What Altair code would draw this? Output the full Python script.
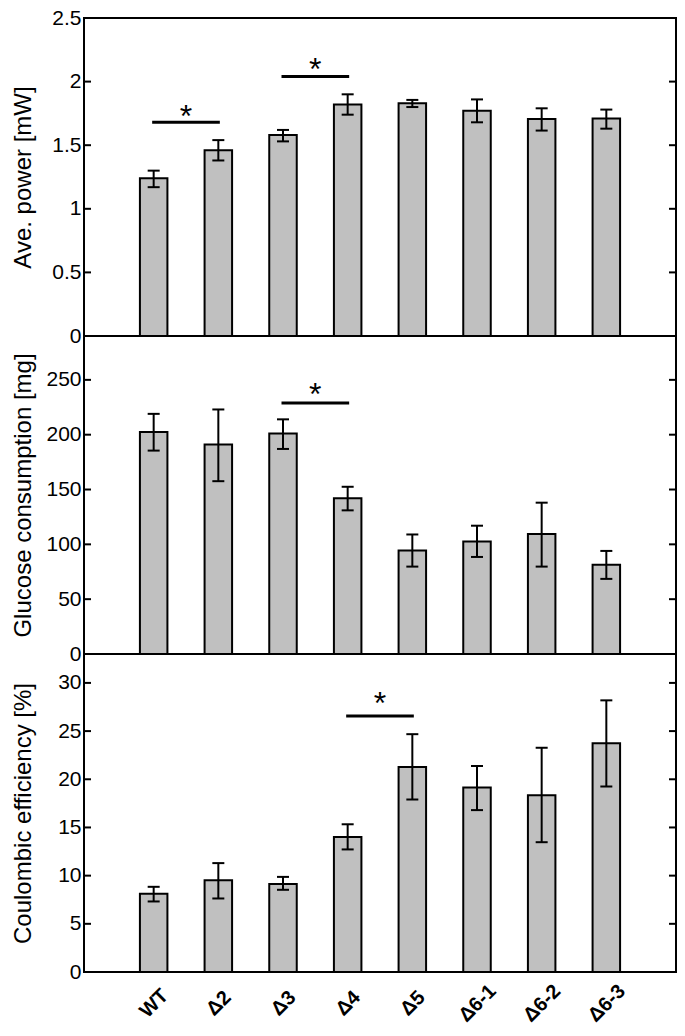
import altair as alt
import pandas as pd

categories = ["WT", "Δ2", "Δ3", "Δ4", "Δ5", "Δ6-1", "Δ6-2", "Δ6-3"]

power_mean = [1.24, 1.46, 1.58, 1.82, 1.83, 1.77, 1.705, 1.71]
power_lo = [1.17, 1.38, 1.53, 1.74, 1.80, 1.68, 1.615, 1.63]
power_hi = [1.30, 1.54, 1.62, 1.90, 1.856, 1.86, 1.79, 1.78]

glucose_mean = [202.5, 191, 201, 142, 94.5, 102.7, 109.5, 81.5]
glucose_lo = [185.5, 157.6, 187, 131, 79.7, 88.5, 79.7, 68.5]
glucose_hi = [219, 223, 214, 152.5, 109, 117, 138, 94]

ce_mean = [8.11, 9.52, 9.14, 14.02, 21.28, 19.14, 18.35, 23.75]
ce_lo = [7.32, 7.63, 8.53, 12.72, 17.9, 16.8, 13.47, 19.25]
ce_hi = [8.84, 11.3, 9.87, 15.33, 24.68, 21.38, 23.27, 28.19]

# significance brackets: (left category index, right category index)
power_sig_a = [0, 2]
power_sig_b = [1, 3]
power_sig_line = [1.68, 2.04]
power_sig_star = [1.79, 2.16]

glucose_sig_a = [2]
glucose_sig_b = [3]
glucose_sig_line = [228.8]
glucose_sig_star = [244.5]

ce_sig_a = [3]
ce_sig_b = [4]
ce_sig_line = [26.57]
ce_sig_star = [28.7]

power_ticks = [0, 0.5, 1, 1.5, 2, 2.5]
glucose_ticks = [0, 50, 100, 150, 200, 250]
ce_ticks = [0, 5, 10, 15, 20, 25, 30]

W = 592
H = 318
FONT = "Liberation Sans"

label_expr = "[" + ",".join("'" + c + "'" for c in categories) + "][datum.value - 1]"


def panel(mean, lo, hi, sa, sb, sline, sstar, ymax, ticks, title, show_x):
    df = pd.DataFrame({
        "pos": list(range(1, len(categories) + 1)),
        "cat": categories,
        "mean": mean,
        "lo": lo,
        "hi": hi,
    })
    sig = pd.DataFrame({
        "a": [i + 1 for i in sa],
        "b": [i + 1 for i in sb],
        "line": sline,
        "star": sstar,
    })
    tk = pd.DataFrame({"t": ticks})

    xscale = alt.Scale(domain=[0, len(categories) + 1], nice=False, zero=False)
    yscale = alt.Scale(domain=[0, ymax], nice=False)

    if show_x:
        xaxis = alt.Axis(
            values=list(range(1, len(categories) + 1)),
            labelExpr=label_expr,
            labelAngle=315,
            labelAlign="center",
            labelBaseline="middle",
            labelPadding=31,
            labelFont=FONT,
            labelFontSize=20,
            labelFontWeight="bold",
            labelColor="black",
            domain=False,
            ticks=False,
            grid=False,
            title=None,
        )
    else:
        xaxis = None

    yaxis = alt.Axis(
        values=ticks,
        format="~r",
        title=title,
        titleFont=FONT,
        titleFontSize=24,
        titleFontWeight="normal",
        titleColor="black",
        titlePadding=1,
        labelFont=FONT,
        labelFontSize=21,
        labelColor="black",
        labelPadding=3,
        minExtent=48,
        domain=False,
        ticks=False,
        grid=False,
    )

    base = alt.Chart(df)
    bars = base.mark_bar(
        width=27.5, fill="#c0c0c0", stroke="black", strokeWidth=2
    ).encode(
        x=alt.X("pos:Q", scale=xscale, axis=xaxis),
        y=alt.Y("mean:Q", scale=yscale, axis=yaxis),
    )
    err = base.mark_rule(color="black", strokeWidth=2).encode(
        x="pos:Q", y="lo:Q", y2="hi:Q"
    )
    cap_hi = base.mark_tick(
        orient="horizontal", size=12, thickness=2, color="black", opacity=1
    ).encode(x="pos:Q", y="hi:Q")
    cap_lo = base.mark_tick(
        orient="horizontal", size=12, thickness=2, color="black", opacity=1
    ).encode(x="pos:Q", y="lo:Q")

    tick_l = alt.Chart(tk).mark_rule(color="black", strokeWidth=2).encode(
        y="t:Q", x=alt.value(0), x2=alt.value(7)
    )
    tick_r = alt.Chart(tk).mark_rule(color="black", strokeWidth=2).encode(
        y="t:Q", x=alt.value(W - 7), x2=alt.value(W)
    )

    sig_base = alt.Chart(sig).transform_calculate(mid="(datum.a + datum.b) / 2")
    sig_line = sig_base.mark_rule(
        color="black", strokeWidth=3, strokeCap="square"
    ).encode(x="a:Q", x2="b:Q", y="line:Q")
    sig_star = sig_base.mark_text(
        text="*", font=FONT, fontSize=32, color="black", baseline="middle",
        align="center", dy=9
    ).encode(x="mid:Q", y="star:Q")

    return alt.layer(
        bars, err, cap_hi, cap_lo, tick_l, tick_r, sig_line, sig_star
    ).properties(width=W, height=H)


p1 = panel(power_mean, power_lo, power_hi, power_sig_a, power_sig_b,
           power_sig_line, power_sig_star, 2.5, power_ticks,
           "Ave. power [mW]", False)
p2 = panel(glucose_mean, glucose_lo, glucose_hi, glucose_sig_a, glucose_sig_b,
           glucose_sig_line, glucose_sig_star, 290, glucose_ticks,
           "Glucose consumption [mg]", False)
p3 = panel(ce_mean, ce_lo, ce_hi, ce_sig_a, ce_sig_b,
           ce_sig_line, ce_sig_star, 33, ce_ticks,
           "Coulombic efficiency [%]", True)

# autosize "none": the concat view reports the panel width but no height,
# so the bottom padding carries the stacked panels plus the rotated labels.
chart = alt.vconcat(p1, p2, p3, spacing=0, bounds="flush").properties(
    autosize=alt.AutoSizeParams(type="none"),
    padding={"top": 10, "left": 76, "right": 1, "bottom": 3 * H + 53},
).configure_view(
    stroke="black", strokeWidth=2
)

chart.save("out.html", embed_options={"renderer": "svg", "actions": False})
